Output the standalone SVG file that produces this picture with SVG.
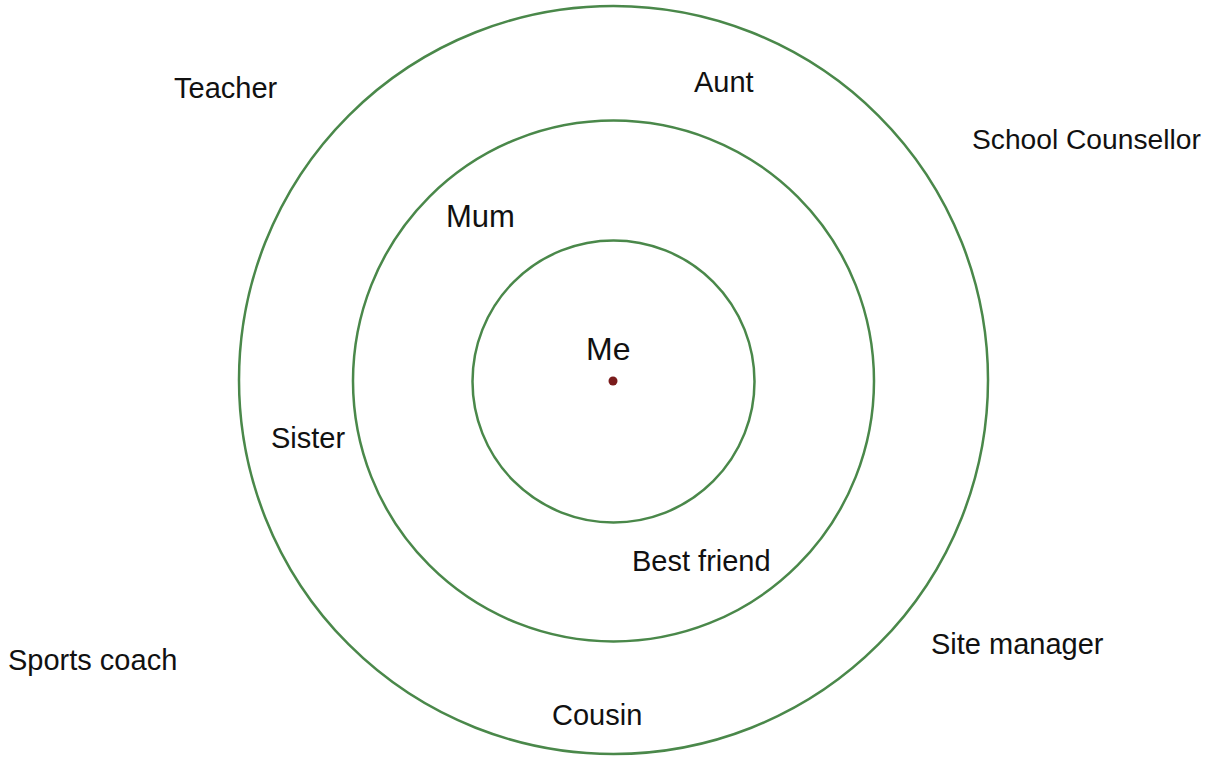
<svg xmlns="http://www.w3.org/2000/svg" width="1211" height="758" viewBox="0 0 1211 758">
<style>
.ring{fill:none;stroke:#4a884a;stroke-width:2.5}
.lbl{font-family:"Liberation Sans",Arial,sans-serif;font-size:29px;fill:#111}
</style>
<rect width="1211" height="758" fill="#ffffff"/>
<g id="rings">
<ellipse id="outer" class="ring" cx="613.5" cy="380" rx="374.5" ry="374"/>
<circle id="middle" class="ring" cx="613.5" cy="381" r="260.5"/>
<circle id="inner" class="ring" cx="613.5" cy="381.5" r="141"/>
</g>
<g id="me"><circle cx="613" cy="381" r="4.5" fill="#7a1c1c"/><text class="lbl" style="font-size:32px" x="586" y="360">Me</text></g>
<g id="teacher"><text class="lbl" x="174" y="98">Teacher</text></g>
<g id="aunt"><text class="lbl" x="694" y="92">Aunt</text></g>
<g id="school-counsellor"><text class="lbl" style="font-size:28.2px" x="972" y="149">School Counsellor</text></g>
<g id="mum"><text class="lbl" style="font-size:31px" x="446" y="227">Mum</text></g>
<g id="sister"><text class="lbl" x="271" y="448">Sister</text></g>
<g id="best-friend"><text class="lbl" x="632" y="571">Best friend</text></g>
<g id="sports-coach"><text class="lbl" x="8" y="670">Sports coach</text></g>
<g id="site-manager"><text class="lbl" x="931" y="654">Site manager</text></g>
<g id="cousin"><text class="lbl" x="552" y="725">Cousin</text></g>
<g id="connectors"></g>
</svg>
